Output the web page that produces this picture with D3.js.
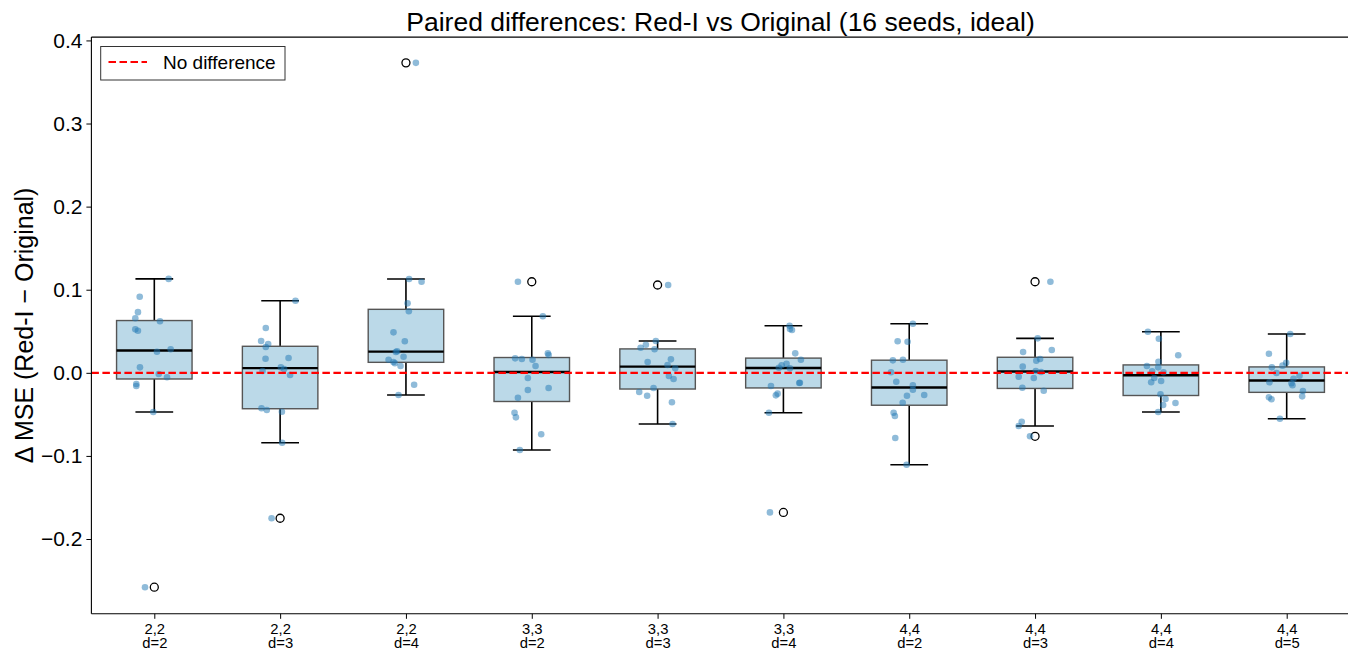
<!DOCTYPE html>
<html>
<head>
<meta charset="utf-8">
<script src="https://cdn.jsdelivr.net/npm/d3@7"></script>
<style>
  html, body { margin: 0; padding: 0; background: #fff; }
  svg { display: block; font-family: "Liberation Sans", Arial, Helvetica, sans-serif; }
</style>
</head>
<body>
<svg id="chart" width="1348" height="652"></svg>
<script>
// ---------- data ----------
const title = "Paired differences: Red-I vs Original (16 seeds, ideal)";
const yLabel = "Δ MSE (Red-I − Original)";
const legendLabel = "No difference";
const categories = ["2,2|d=2","2,2|d=3","2,2|d=4","3,3|d=2","3,3|d=3","3,3|d=4","4,4|d=2","4,4|d=3","4,4|d=4","4,4|d=5"];
const yTicks = [-0.2, -0.1, 0.0, 0.1, 0.2, 0.3, 0.4];

// per-seed paired differences (16 per configuration)
const g_22_d2 = [0.113, 0.0916, 0.073, 0.0656, 0.062, 0.0523, 0.0507, 0.0254, 0.0283, 0.0066, -0.0014, -0.0054, -0.0135, -0.0159, -0.0472, -0.258];
const g_22_d3 = [0.0868, 0.0539, 0.0383, 0.0347, 0.031, 0.017, 0.0178, 0.0022, 0.0066, 0.0046, -0.0026, -0.0427, -0.0448, -0.0468, -0.0841, -0.175];
const g_22_d4 = [0.373, 0.1129, 0.1096, 0.0836, 0.074, 0.0487, 0.0379, 0.0259, 0.025, 0.0194, 0.0158, 0.013, 0.0115, 0.0082, -0.0143, -0.0267];
const g_33_d2 = [0.1096, 0.068, 0.0234, 0.0214, 0.0174, 0.0166, 0.0158, 0.0082, -0.0063, -0.0183, -0.0207, -0.03, -0.048, -0.0536, -0.074, -0.0929];
const g_33_d3 = [0.1057, 0.0383, 0.0338, 0.0302, 0.0283, 0.013, 0.0162, 0.0094, 0.0054, -0.0039, -0.0075, -0.0183, -0.0231, -0.0276, -0.0355, -0.0616];
const g_33_d4 = [0.0567, 0.0527, 0.0515, 0.0234, 0.0158, 0.011, 0.009, 0.0061, 0.0054, -0.0123, -0.012, -0.0159, -0.0251, -0.0271, -0.048, -0.168];
const g_44_d2 = [0.0591, 0.0379, 0.0374, 0.015, 0.0158, 0.0006, -0.0107, -0.015, -0.0203, -0.0267, -0.0276, -0.036, -0.048, -0.052, -0.0785, -0.1106];
const g_44_d3 = [0.1096, 0.0415, 0.0274, 0.025, 0.0166, 0.0146, 0.0074, 0.0022, 0.001, -0.0047, -0.0063, -0.0179, -0.0215, -0.0588, -0.064, -0.0764];
const g_44_d4 = [0.0495, 0.041, 0.0211, 0.0134, 0.0082, 0.0066, 0.0018, 0.0006, -0.0063, -0.0099, -0.0114, -0.0259, -0.0315, -0.0363, -0.0387, -0.0472];
const g_44_d5 = [0.0467, 0.023, 0.0122, 0.0086, 0.0066, -0.0002, -0.0035, -0.0071, -0.0114, -0.0126, -0.015, -0.0219, -0.0283, -0.0295, -0.0319, -0.0552];

// horizontal jitter of each seed's dot (in category units)
const j_22_d2 = [0.114, -0.116, -0.130, -0.151, 0.045, -0.151, -0.130, 0.021, 0.130, -0.114, 0.035, 0.101, -0.143, -0.143, -0.008, -0.074];
const j_22_d3 = [0.122, -0.114, -0.151, -0.095, -0.114, -0.116, 0.067, -0.140, 0.006, 0.032, 0.079, -0.148, -0.106, 0.014, 0.016, -0.068];
const j_22_d4 = [0.079, 0.025, 0.124, 0.013, 0.023, -0.099, -0.009, -0.070, -0.080, -0.019, -0.138, -0.099, -0.088, -0.043, 0.065, -0.059];
const j_33_d2 = [-0.110, 0.088, 0.128, 0.134, -0.132, -0.079, 0.006, 0.030, -0.031, 0.134, -0.031, -0.110, -0.137, -0.126, 0.075, -0.095];
const j_33_d3 = [0.084, -0.014, -0.093, -0.135, -0.024, -0.079, 0.106, 0.079, 0.140, 0.090, 0.127, -0.032, -0.146, -0.083, 0.114, 0.119];
const j_33_d4 = [0.049, 0.052, 0.068, 0.094, 0.139, 0.025, -0.014, -0.036, 0.052, 0.126, 0.131, -0.099, -0.046, -0.060, -0.115, -0.107];
const j_44_d2 = [0.029, -0.092, -0.013, -0.130, -0.050, -0.145, -0.103, 0.029, 0.029, 0.119, -0.018, -0.052, -0.124, -0.114, -0.111, -0.021];
const j_44_d3 = [0.122, 0.021, 0.133, -0.095, 0.040, 0.010, -0.098, 0.006, 0.048, -0.130, -0.010, -0.101, 0.069, -0.106, -0.130, -0.040];
const j_44_d4 = [-0.103, -0.016, 0.138, -0.019, -0.111, -0.021, -0.069, 0.021, -0.053, 0.002, -0.077, -0.003, 0.037, 0.116, 0.018, -0.021];
const j_44_d5 = [0.028, -0.141, -0.004, -0.033, -0.118, -0.081, 0.102, 0.054, -0.137, 0.038, 0.046, 0.129, 0.123, -0.141, -0.121, -0.054];

const seriesValues = [g_22_d2, g_22_d3, g_22_d4, g_33_d2, g_33_d3, g_33_d4, g_44_d2, g_44_d3, g_44_d4, g_44_d5];
const seriesJitter = [j_22_d2, j_22_d3, j_22_d4, j_33_d2, j_33_d3, j_33_d4, j_44_d2, j_44_d3, j_44_d4, j_44_d5];

// ---------- layout ----------
const plot = { left: 91.4, right: 1349.6, top: 37.1, bottom: 613.8 };
const svg = d3.select("#chart");

const x = d3.scaleLinear().domain([-0.5, categories.length - 0.5]).range([plot.left, plot.right]);
const y = d3.scaleLinear().domain([-0.29, 0.404]).range([plot.bottom, plot.top]);
const unit = x(1) - x(0);
const boxW = 0.6 * unit, capW = 0.3 * unit;

// boxplot stats (matplotlib style: linear quantiles, 1.5 IQR whiskers)
const stats = seriesValues.map((vals, i) => {
  const s = vals.slice().sort(d3.ascending);
  const q1 = d3.quantileSorted(s, 0.25), med = d3.quantileSorted(s, 0.5), q3 = d3.quantileSorted(s, 0.75);
  const iqr = q3 - q1;
  const lo = q1 - 1.5 * iqr, hi = q3 + 1.5 * iqr;
  const inside = s.filter(v => v >= lo && v <= hi);
  return { i, q1, med, q3, wlo: d3.min(inside), whi: d3.max(inside), out: s.filter(v => v < lo || v > hi) };
});

svg.append("defs").append("clipPath").attr("id", "clip")
  .append("rect").attr("x", plot.left).attr("y", plot.top)
  .attr("width", plot.right - plot.left).attr("height", plot.bottom - plot.top);

const g = svg.append("g").attr("clip-path", "url(#clip)");

const boxes = g.selectAll("g.box").data(stats).join("g").attr("class", "box");
boxes.append("line").attr("x1", d => x(d.i)).attr("x2", d => x(d.i))
  .attr("y1", d => y(d.q3)).attr("y2", d => y(d.whi)).attr("stroke", "#000").attr("stroke-width", 1.6);
boxes.append("line").attr("x1", d => x(d.i)).attr("x2", d => x(d.i))
  .attr("y1", d => y(d.q1)).attr("y2", d => y(d.wlo)).attr("stroke", "#000").attr("stroke-width", 1.6);
boxes.append("line").attr("x1", d => x(d.i) - capW / 2).attr("x2", d => x(d.i) + capW / 2)
  .attr("y1", d => y(d.whi)).attr("y2", d => y(d.whi)).attr("stroke", "#000").attr("stroke-width", 1.6);
boxes.append("line").attr("x1", d => x(d.i) - capW / 2).attr("x2", d => x(d.i) + capW / 2)
  .attr("y1", d => y(d.wlo)).attr("y2", d => y(d.wlo)).attr("stroke", "#000").attr("stroke-width", 1.6);
boxes.append("rect").attr("x", d => x(d.i) - boxW / 2).attr("width", boxW)
  .attr("y", d => y(d.q3)).attr("height", d => y(d.q1) - y(d.q3))
  .attr("fill", "#bbd9e8").attr("stroke", "#555").attr("stroke-width", 1.4);
boxes.append("line").attr("x1", d => x(d.i) - boxW / 2).attr("x2", d => x(d.i) + boxW / 2)
  .attr("y1", d => y(d.med)).attr("y2", d => y(d.med)).attr("stroke", "#000").attr("stroke-width", 2.4);
boxes.selectAll("circle.out").data(d => d.out.map(v => ({ i: d.i, v }))).join("circle")
  .attr("class", "out").attr("cx", d => x(d.i)).attr("cy", d => y(d.v)).attr("r", 4)
  .attr("fill", "none").attr("stroke", "#000").attr("stroke-width", 1.3);

const pts = [];
seriesValues.forEach((vals, i) => vals.forEach((v, k) => pts.push({ i, v, j: seriesJitter[i][k] })));
g.selectAll("circle.pt").data(pts).join("circle").attr("class", "pt")
  .attr("cx", d => x(d.i + d.j)).attr("cy", d => y(d.v)).attr("r", 3.3)
  .attr("fill", "#1f77b4").attr("fill-opacity", 0.5);

g.append("line").attr("x1", plot.left).attr("x2", plot.right)
  .attr("y1", y(0)).attr("y2", y(0))
  .attr("stroke", "red").attr("stroke-width", 2.2).attr("stroke-dasharray", "7.5,3.5");

// ---------- axes ----------
const yAxis = d3.axisLeft(y).tickValues(yTicks).tickSize(5).tickPadding(4)
  .tickFormat(d => (d < 0 ? "\u2212" : "") + Math.abs(d).toFixed(1));
const ya = svg.append("g").attr("transform", `translate(${plot.left},0)`).call(yAxis);
ya.select(".domain").remove();
ya.selectAll("text").attr("font-size", 21).attr("fill", "#000").attr("font-family", "Liberation Sans, Arial, sans-serif");
ya.selectAll("line").attr("stroke", "#000");

const xAxis = d3.axisBottom(x).tickValues(d3.range(categories.length)).tickSize(5).tickFormat("");
const xa = svg.append("g").attr("transform", `translate(0,${plot.bottom})`).call(xAxis);
xa.select(".domain").remove();
xa.selectAll("line").attr("stroke", "#000");
xa.selectAll(".tick").each(function (d) {
  const parts = categories[d].split("|");
  const t = d3.select(this).append("text").attr("fill", "#000").attr("font-size", 14.8)
    .attr("text-anchor", "middle");
  t.append("tspan").attr("x", 0).attr("y", 20.5).text(parts[0]);
  t.append("tspan").attr("x", 0).attr("y", 34.5).text(parts[1]);
});

const spine = svg.append("g").attr("stroke", "#000").attr("stroke-width", 1.1).attr("fill", "none");
spine.append("line").attr("x1", plot.left).attr("x2", plot.left).attr("y1", plot.top).attr("y2", plot.bottom);
spine.append("line").attr("x1", plot.left).attr("x2", plot.right).attr("y1", plot.bottom).attr("y2", plot.bottom);
spine.append("line").attr("x1", plot.left).attr("x2", plot.right).attr("y1", plot.top).attr("y2", plot.top);
spine.append("line").attr("x1", plot.right).attr("x2", plot.right).attr("y1", plot.top).attr("y2", plot.bottom);

svg.append("text").attr("x", (plot.left + plot.right) / 2).attr("y", 30.5)
  .attr("text-anchor", "middle").attr("font-size", 26.5).attr("fill", "#000").text(title);

svg.append("text").attr("transform", `translate(33,${(plot.top + plot.bottom) / 2}) rotate(-90)`)
  .attr("text-anchor", "middle").attr("font-size", 25).attr("fill", "#000").text(yLabel);

const lg = svg.append("g");
lg.append("rect").attr("x", 100.7).attr("y", 46.5).attr("width", 184.3).attr("height", 33.5)
  .attr("fill", "#fff").attr("stroke", "#333").attr("stroke-width", 1);
lg.append("line").attr("x1", 108.5).attr("x2", 147).attr("y1", 62).attr("y2", 62)
  .attr("stroke", "red").attr("stroke-width", 2.2).attr("stroke-dasharray", "7.5,3.5");
lg.append("text").attr("x", 163).attr("y", 68.5).attr("font-size", 19).attr("fill", "#000").text(legendLabel);
</script>
</body>
</html>
